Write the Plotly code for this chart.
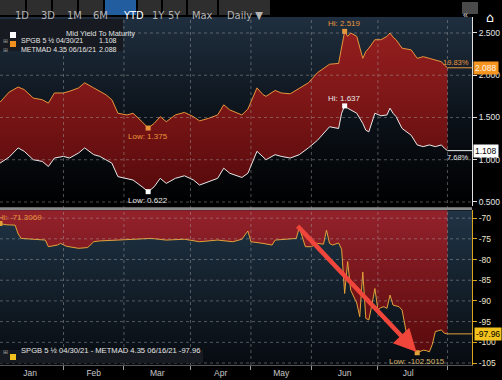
import numpy as np
import plotly.graph_objects as go

# ---------------- data ----------------
dates = ["2015-01-02","2015-01-07","2015-01-12","2015-01-14","2015-01-19","2015-01-22","2015-01-26","2015-01-28",
         "2015-02-02","2015-02-04","2015-02-09","2015-02-11","2015-02-16","2015-02-18","2015-02-20","2015-02-24","2015-02-26",
         "2015-03-03","2015-03-05","2015-03-10","2015-03-12","2015-03-16","2015-03-18","2015-03-20","2015-03-25","2015-03-30",
         "2015-04-02","2015-04-08","2015-04-13","2015-04-16","2015-04-20","2015-04-22","2015-04-28","2015-04-30",
         "2015-05-06","2015-05-08","2015-05-11","2015-05-14","2015-05-18","2015-05-21","2015-05-26","2015-05-29",
         "2015-06-03","2015-06-09","2015-06-12","2015-06-15","2015-06-16","2015-06-17","2015-06-18","2015-06-22","2015-06-24",
         "2015-06-25","2015-06-26","2015-06-30",
         "2015-07-02","2015-07-06","2015-07-07","2015-07-08","2015-07-09","2015-07-13","2015-07-16","2015-07-20","2015-07-22",
         "2015-07-24","2015-07-28","2015-07-30","2015-07-31","2015-08-03"]
metmad = [1.68,1.80,1.86,1.83,1.73,1.71,1.67,1.79,
          1.79,1.81,1.85,1.91,1.85,1.81,1.77,1.71,1.55,
          1.53,1.55,1.45,1.375,1.43,1.51,1.45,1.53,1.56,
          1.51,1.46,1.49,1.53,1.65,1.59,1.53,1.60,
          1.85,1.77,1.75,1.82,1.79,1.78,1.84,1.91,
          2.03,2.13,2.14,2.34,2.519,2.46,2.50,2.46,2.20,2.28,2.32,2.42,
          2.42,2.46,2.50,2.45,2.42,2.32,2.30,2.20,2.22,2.20,2.18,2.16,2.12,2.088]
spgb = [0.96,1.03,1.14,1.10,1.00,0.98,0.92,1.02,
        1.04,1.02,1.08,1.14,1.06,1.04,1.00,0.96,0.80,
        0.78,0.76,0.68,0.622,0.68,0.78,0.72,0.78,0.81,
        0.76,0.70,0.74,0.78,0.90,0.84,0.79,0.84,
        1.10,1.04,1.00,1.06,1.04,1.02,1.06,1.14,
        1.23,1.39,1.37,1.55,1.637,1.61,1.59,1.55,1.43,1.35,1.33,1.55,
        1.52,1.53,1.61,1.55,1.51,1.37,1.29,1.175,1.155,1.175,1.155,1.175,1.136,1.108]

spread_dates = ["2015-01-02","2015-01-06","2015-01-09","2015-01-12","2015-01-13","2015-01-19","2015-01-23","2015-01-26",
                "2015-01-29","2015-01-30","2015-02-03","2015-02-09","2015-02-12","2015-02-16","2015-02-18","2015-02-26",
                "2015-03-05","2015-03-13","2015-03-20","2015-03-30","2015-04-08","2015-04-16","2015-04-23","2015-04-28",
                "2015-04-30","2015-05-04","2015-05-08","2015-05-13","2015-05-14","2015-05-20","2015-05-25","2015-05-26",
                "2015-05-27","2015-05-28","2015-06-01","2015-06-03","2015-06-05","2015-06-08","2015-06-09","2015-06-10",
                "2015-06-12","2015-06-15","2015-06-16","2015-06-17","2015-06-18","2015-06-19","2015-06-22","2015-06-23",
                "2015-06-24","2015-06-25","2015-06-26","2015-06-29","2015-06-30","2015-07-01","2015-07-02","2015-07-03",
                "2015-07-06","2015-07-07","2015-07-08","2015-07-09","2015-07-10","2015-07-13","2015-07-14","2015-07-15",
                "2015-07-16","2015-07-17","2015-07-20","2015-07-21","2015-07-22","2015-07-23","2015-07-24","2015-07-27",
                "2015-07-28","2015-07-29","2015-07-30","2015-07-31","2015-08-03"]
spread = [-71.3069,-71.6,-71.7,-73.8,-74.9,-75.1,-75.3,-76.9,
          -76.5,-76.1,-76.8,-77.3,-77.1,-75.7,-75.5,-75.3,
          -75.1,-74.9,-75.3,-75.1,-75.7,-75.3,-75.7,-75.1,
          -73.1,-75.7,-76.1,-76.5,-75.3,-75.1,-74.9,-72.2,
          -74.5,-76.9,-76.9,-76.1,-76.3,-72.9,-76.1,-76.5,
          -76.0,-77.5,-88.2,-80.5,-87.4,-89.0,-90.5,-93.8,
          -83.0,-94.2,-94.6,-91.0,-87.0,-92.2,-91.6,-91.4,
          -91.8,-88.6,-91.0,-91.2,-91.4,-92.2,-96.5,-100.0,
          -101.0,-101.9,-102.5015,-102.2,-101.9,-102.0,-102.3,-100.5,
          -97.4,-97.2,-97.0,-97.8,-97.96]

months = ["Jan","Feb","Mar","Apr","May","Jun","Jul"]
month_label_dates = ["2015-01-16","2015-02-16","2015-03-17","2015-04-17","2015-05-18","2015-06-16","2015-07-15"]
month_starts = ["2015-02-02","2015-03-02","2015-04-01","2015-05-04","2015-06-01","2015-07-01","2015-08-03"]
holidays = ["2015-01-01","2015-04-03","2015-04-06","2015-05-01"]
upper_ticks = [0.5,1.0,1.5,2.0,2.5]
lower_ticks = [-70,-75,-80,-85,-90,-95,-100,-105]
lower_ticktext = ["-70","-75","-80","-85","-90","-95","-100","-105"]

name_spgb = "SPGB 5 ½ 04/30/21"
name_met = "METMAD 4.35 06/16/21"

# ---------------- styling constants ----------------
FONT = "Liberation Sans, Arial, sans-serif"
TBFONT = "DejaVu Sans Condensed, DejaVu Sans, sans-serif"
W, H = 502, 380
ML, MR, MT, MB = 0, 30, 17, 15
PW, PH = W - ML - MR, H - MT - MB
X_START, X_END = "2015-01-02 00:00", "2015-08-13 03:00"
Y2_MIN, Y2_MAX = 0.453, 2.689
Y_MIN, Y_MAX = -105.48, -68.07
ORANGE = "#e9953b"
WHITE = "#e8e8e8"
YEL = "#e2a23a"

def PX(x):
    return (x - ML) / PW

def PY(y):
    return (MT + PH - y) / PH

RB = [dict(bounds=["sat", "mon"]), dict(values=holidays)]

fig = go.Figure()

# backgrounds (gradients)
fig.add_trace(go.Scatter(x=[X_START, X_END, X_END, X_START], y=[Y2_MIN, Y2_MIN, Y2_MAX, Y2_MAX],
                         fill="toself", mode="none", hoverinfo="skip", xaxis="x2", yaxis="y2",
                         fillgradient=dict(type="vertical", start=Y2_MIN, stop=Y2_MAX,
                                           colorscale=[[0, "#000000"], [0.45, "#0b1118"], [1, "#1f2f3f"]])))
fig.add_trace(go.Scatter(x=dates, y=spgb, mode="lines", line=dict(color=WHITE, width=1),
                         hoverinfo="skip", xaxis="x2", yaxis="y2"))
fig.add_trace(go.Scatter(x=dates, y=metmad, mode="lines", line=dict(color=ORANGE, width=1),
                         fill="tonexty", hoverinfo="skip", xaxis="x2", yaxis="y2",
                         fillgradient=dict(type="vertical", start=0.7, stop=2.5,
                                           colorscale=[[0, "#5a0b0d"], [0.5, "#7a1516"], [1, "#931e1f"]])))
fig.add_trace(go.Scatter(x=[X_START, X_END, X_END, X_START], y=[Y_MIN, Y_MIN, Y_MAX, Y_MAX],
                         fill="toself", mode="none", hoverinfo="skip", xaxis="x", yaxis="y",
                         fillgradient=dict(type="vertical", start=Y_MIN, stop=Y_MAX,
                                           colorscale=[[0, "#070b10"], [1, "#203446"]])))
fig.add_trace(go.Scatter(x=spread_dates, y=spread, mode="lines", line=dict(color=YEL, width=1),
                         fill="tozeroy", hoverinfo="skip", xaxis="x", yaxis="y",
                         fillgradient=dict(type="vertical", start=-103, stop=-69,
                                           colorscale=[[0, "#580a0c"], [1, "#92212a"]])))

# last-value extension lines
fig.add_trace(go.Scatter(x=[dates[-1], X_END], y=[metmad[-1]] * 2, mode="lines",
                         line=dict(color=ORANGE, width=1), hoverinfo="skip", xaxis="x2", yaxis="y2"))
fig.add_trace(go.Scatter(x=[dates[-1], X_END], y=[spgb[-1]] * 2, mode="lines",
                         line=dict(color=WHITE, width=1), hoverinfo="skip", xaxis="x2", yaxis="y2"))
fig.add_trace(go.Scatter(x=[spread_dates[-1], X_END], y=[spread[-1]] * 2, mode="lines",
                         line=dict(color=YEL, width=1), hoverinfo="skip", xaxis="x", yaxis="y"))

# hi / low markers
im_hi, im_lo = int(np.argmax(metmad)), int(np.argmin(metmad))
is_hi, is_lo = int(np.argmax(spgb)), int(np.argmin(spgb))
sp_hi, sp_lo = int(np.argmax(spread)), int(np.argmin(spread))
fig.add_trace(go.Scatter(x=[dates[im_hi], dates[im_lo]], y=[metmad[im_hi], metmad[im_lo]], mode="markers",
                         marker=dict(symbol="square", size=5, color=ORANGE), hoverinfo="skip", xaxis="x2", yaxis="y2"))
fig.add_trace(go.Scatter(x=[dates[is_hi], dates[is_lo]], y=[spgb[is_hi], spgb[is_lo]], mode="markers",
                         marker=dict(symbol="square", size=5, color="#ffffff"), hoverinfo="skip", xaxis="x2", yaxis="y2"))
fig.add_trace(go.Scatter(x=[spread_dates[sp_hi], spread_dates[sp_lo]], y=[spread[sp_hi], spread[sp_lo]], mode="markers",
                         marker=dict(symbol="square", size=5, color=YEL), hoverinfo="skip", xaxis="x", yaxis="y",
                         cliponaxis=True))

ann = []
def A(**k):
    base = dict(showarrow=False, font=dict(family=FONT, size=8, color=WHITE))
    if "font" in k:
        f = dict(base["font"]); f.update(k.pop("font")); base["font"] = f
    base.update(k)
    ann.append(base)

# hi/low labels
A(x=dates[im_hi], y=metmad[im_hi], xref="x2", yref="y2", text=f"Hi: {metmad[im_hi]:.3f}", yanchor="bottom", yshift=1, font=dict(color=ORANGE))
A(x=dates[im_lo], y=metmad[im_lo], xref="x2", yref="y2", text=f"Low: {metmad[im_lo]:.3f}", yanchor="top", yshift=-2, font=dict(color=ORANGE))
A(x=dates[is_hi], y=spgb[is_hi], xref="x2", yref="y2", text=f"Hi: {spgb[is_hi]:.3f}", yanchor="bottom", yshift=1)
A(x=dates[is_lo], y=spgb[is_lo], xref="x2", yref="y2", text=f"Low: {spgb[is_lo]:.3f}", yanchor="top", yshift=-2)
A(x=spread_dates[sp_hi], y=spread[sp_hi], xref="x", yref="y", text=f"Hi: {spread[sp_hi]:.4f}", xanchor="left", xshift=-4,
  yanchor="bottom", yshift=0, font=dict(color=ORANGE))
A(x=spread_dates[sp_lo], y=spread[sp_lo], xref="x", yref="y", text=f"Low: {spread[sp_lo]:.4f}", yanchor="top", yshift=-2,
  font=dict(color="#d9b46a"))

# percentage labels
A(x=1, xref="paper", y=metmad[-1], yref="y2", text="19.83%", xanchor="right", xshift=-1, yanchor="bottom", yshift=-1,
  font=dict(color=ORANGE, size=7.5))
A(x=1, xref="paper", y=spgb[-1], yref="y2", text="7.68%", xanchor="right", xshift=-1, yanchor="top", yshift=0,
  font=dict(color=WHITE, size=7.5))

# value boxes on the axis
A(x=1, xref="paper", y=metmad[-1], yref="y2", text=f"{metmad[-1]:.3f}", xanchor="left", xshift=1,
  bgcolor="#f5951f", borderpad=1, font=dict(color="#fff4e6", size=8.5))
A(x=1, xref="paper", y=spgb[-1], yref="y2", text=f"{spgb[-1]:.3f}", xanchor="left", xshift=1,
  bgcolor="#ffffff", borderpad=1, font=dict(color="#000000", size=8.5))
A(x=1, xref="paper", y=spread[-1], yref="y", text=f"-{abs(spread[-1]):.2f}", xanchor="left", xshift=2,
  bgcolor="#f3c21c", borderpad=1, font=dict(color="#000000", size=8.5))

# red arrow
ann.append(dict(x=spread_dates[sp_lo], y=spread[sp_lo], xref="x", yref="y", ax=-121, ay=-128, text="",
                showarrow=True, arrowhead=2, arrowsize=1.0, arrowwidth=4.5, arrowcolor="#f0453a", standoff=1))

# legends
A(x=PX(64), y=PY(27), xref="paper", yref="paper", text="Mid Yield To Maturity", font=dict(size=7.5, color="#e0e0e0"))
for yy, nm, val in [(35, name_spgb, spgb[-1]), (44, name_met, metmad[-1])]:
    A(x=PX(1), y=PY(yy), xref="paper", yref="paper", text="⊞", xanchor="left", font=dict(size=6, color="#9a9a9a", family="DejaVu Sans"))
    A(x=PX(19), y=PY(yy), xref="paper", yref="paper", text=nm, xanchor="left", font=dict(size=7, color="#e6e6e6"))
    A(x=PX(119), y=PY(yy), xref="paper", yref="paper", text=f"{val:.3f}", xanchor="right", font=dict(size=7, color="#e6e6e6"))
A(x=PX(1), y=PY(357), xref="paper", yref="paper", text="⊞", xanchor="left", font=dict(size=6, color="#9a9a9a", family="DejaVu Sans"))
A(x=PX(19), y=PY(357), xref="paper", yref="paper", text=f"{name_spgb} - {name_met} -{abs(spread[-1]):.2f}",
  xanchor="left", font=dict(size=7.6, color="#e6e6e6"))

# toolbar
toolbar = [("1D", 0, 25), ("3D", 27, 51), ("1M", 53, 77), ("6M", 79, 103), ("YTD", 105, 136),
           ("1Y", 138, 161), ("5Y", 163, 186), ("Max", 188, 217), ("Daily ▼", 219, 270)]
shapes = []
for lab, x0, x1 in toolbar:
    sel = lab == "YTD"
    shapes.append(dict(type="rect", xref="paper", yref="paper", x0=PX(x0), x1=PX(x1), y0=PY(15), y1=PY(0),
                       fillcolor="#215d9f" if sel else "#2e2e2e", line=dict(width=0), layer="above"))
    A(x=PX((x0 + x1) / 2), y=PY(7.5), xref="paper", yref="paper", text=lab,
      font=dict(size=11, color="#ffffff" if sel else "#b4b4b4", family=TBFONT))
shapes.append(dict(type="rect", xref="paper", yref="paper", x0=PX(462), x1=PX(478), y0=PY(14), y1=PY(2),
                   fillcolor="#4a4a4a", line=dict(width=0), layer="above"))
A(x=PX(470), y=PY(8), xref="paper", yref="paper", text="«", font=dict(size=9, color="#e0e0e0"))
A(x=PX(496), y=PY(8), xref="paper", yref="paper", text="⌂", font=dict(size=13, color="#ffffff", family="DejaVu Sans"))

# dotted grid (drawn above fills)
GRID = dict(color="rgba(170,170,170,0.45)", width=1, dash="dot")
for t in upper_ticks:
    shapes.append(dict(type="line", xref="paper", yref="y2", x0=0, x1=1, y0=t, y1=t, line=GRID, layer="above"))
for t in lower_ticks:
    shapes.append(dict(type="line", xref="paper", yref="y", x0=0, x1=1, y0=t, y1=t, line=GRID, layer="above"))
for d in month_starts:
    shapes.append(dict(type="line", xref="x", yref="paper", x0=d, x1=d, y0=0, y1=1, line=GRID, layer="above"))

# separator bar
shapes.append(dict(type="rect", xref="paper", yref="paper", x0=0, x1=1, y0=PY(210), y1=PY(207.3),
                   fillcolor="#8a8a8a", line=dict(width=0), layer="above"))
# legend boxes and swatches
shapes.append(dict(type="rect", xref="paper", yref="paper", x0=PX(0), x1=PX(123), y0=PY(51), y1=PY(19),
                   fillcolor="#171b21", line=dict(width=0), layer="above"))
shapes.append(dict(type="rect", xref="paper", yref="paper", x0=PX(10), x1=PX(16), y0=PY(38), y1=PY(32),
                   fillcolor="#ffffff", line=dict(width=0), layer="above"))
shapes.append(dict(type="rect", xref="paper", yref="paper", x0=PX(10), x1=PX(16), y0=PY(47), y1=PY(41),
                   fillcolor="#f0901e", line=dict(width=0), layer="above"))
shapes.append(dict(type="rect", xref="paper", yref="paper", x0=PX(0), x1=PX(203), y0=PY(363), y1=PY(350),
                   fillcolor="#171b21", line=dict(width=0), layer="above"))
shapes.append(dict(type="rect", xref="paper", yref="paper", x0=PX(10), x1=PX(16), y0=PY(360), y1=PY(354),
                   fillcolor="#f3c21c", line=dict(width=0), layer="above"))

A(x=PX(237), y=PY(377), xref="paper", yref="paper", text="2015", yanchor="top", font=dict(size=8.5, color="#c8c8c8"))

fig.update_layout(
    width=W, height=H, margin=dict(l=ML, r=MR, t=MT, b=MB, pad=0),
    paper_bgcolor="#000000", plot_bgcolor="#000000", showlegend=False,
    font=dict(family=FONT, size=8.5, color="#d0d0d0"),
    xaxis=dict(domain=[0, 1], anchor="y", type="date", range=[X_START, X_END], rangebreaks=RB,
               tickmode="array", tickvals=month_label_dates, ticktext=months, ticks="", showgrid=False,
               zeroline=False, showline=True, linecolor="#555555", linewidth=1,
               tickfont=dict(family=FONT, size=8.5, color="#c8c8c8"),
               minor=dict(tickmode="array", tickvals=month_starts, ticks="outside", ticklen=4,
                          tickcolor="#9a9a9a", showgrid=False)),
    xaxis2=dict(domain=[0, 1], anchor="y2", type="date", range=[X_START, X_END], rangebreaks=RB,
                matches="x", showticklabels=False, ticks="", showgrid=False, zeroline=False, showline=False),
    yaxis=dict(domain=[0, 0.445], anchor="x", side="right", range=[Y_MIN, Y_MAX],
               tickmode="array", tickvals=lower_ticks, ticktext=lower_ticktext,
               ticks="outside", ticklen=4, tickcolor="#d9a520", showline=True, linecolor="#d9a520",
               showgrid=False, zeroline=False, tickfont=dict(family=FONT, size=8.5, color="#ece4cc")),
    yaxis2=dict(domain=[0.457, 1], anchor="x2", side="right", range=[Y2_MIN, Y2_MAX],
                tickmode="array", tickvals=upper_ticks, tickformat=".3f",
                ticks="outside", ticklen=4, tickcolor="#e0e0e0", showline=True, linecolor="#e0e0e0",
                showgrid=False, zeroline=False, tickfont=dict(family=FONT, size=8.5, color="#e6e6e6")),
    shapes=shapes, annotations=ann,
)

fig.write_html("out.html", config={"displayModeBar": False},
               post_script="document.body.style.margin='0px';document.body.style.overflow='hidden';")
